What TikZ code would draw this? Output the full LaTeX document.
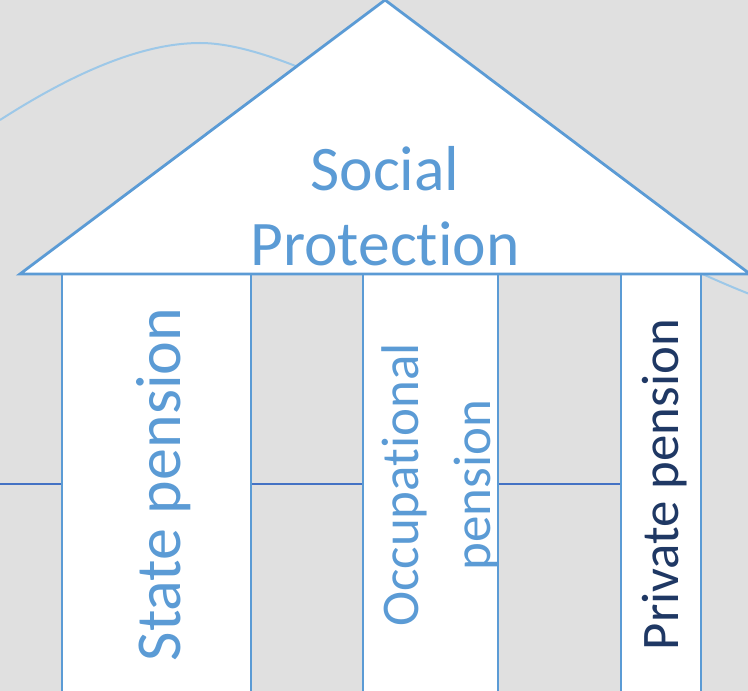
\documentclass[tikz,border=0pt]{standalone}
\usepackage{fontspec}
\setmainfont{Carlito}[Ligatures=NoCommon]
\definecolor{bggray}{RGB}{224,224,224}
\definecolor{edgeblue}{RGB}{91,155,213}
\definecolor{beamblue}{RGB}{68,114,196}
\definecolor{wave}{RGB}{157,200,232}
\definecolor{navy}{RGB}{31,56,100}
\tikzset{
  outline/.style={draw=edgeblue, line width=2.8bp, fill=white, line join=miter},
  beam/.style={draw=beamblue, line width=2.2bp},
  swoosh/.style={draw=wave, line width=2bp},
  label/.style={inner sep=0pt, text=edgeblue},
  upright/.style={label, rotate=90, anchor=base}
}
\begin{document}
\begin{tikzpicture}[x=1bp, y=-1bp]
\useasboundingbox (0,0) rectangle (748,691);
\clip (0,0) rectangle (748,691);
\fill[bggray] (0,0) rectangle (748,691);

% sweeping curve behind the building
\draw[swoosh] (0,120) .. controls (70,75) and (140,43) .. (200,43)
                      .. controls (320,43) and (560,220) .. (752,295);

% crossbeam between the columns
\coordinate (beamL) at (0,484);
\coordinate (beamR) at (621,484);
\draw[beam] (beamL) -- (beamR);

% the three columns
\draw[outline] (62,274) rectangle (251,700);
\draw[outline] (363,274) rectangle (498,700);
\draw[outline] (621,274) rectangle (701,700);

% the roof
\draw[outline] (20,274) -- (385,0) -- (750,274) -- cycle;

% texts (base anchor of a multi-line node sits on its last line)
\node[label, align=center, anchor=base,
      font=\fontsize{63.5bp}{75bp}\selectfont] (roof) at (385,265) {Social\\Protection};
\node[upright, font=\fontsize{64bp}{75bp}\selectfont] (state) at (180,484.5) {State pension};
\node[upright, align=center, font=\fontsize{53bp}{72bp}\selectfont] (occupational) at (490,485) {Occupational\\pension};
\node[upright, text=navy, font=\fontsize{52.8bp}{62bp}\selectfont] (private) at (678,484.5) {Private pension};
\end{tikzpicture}
\end{document}
